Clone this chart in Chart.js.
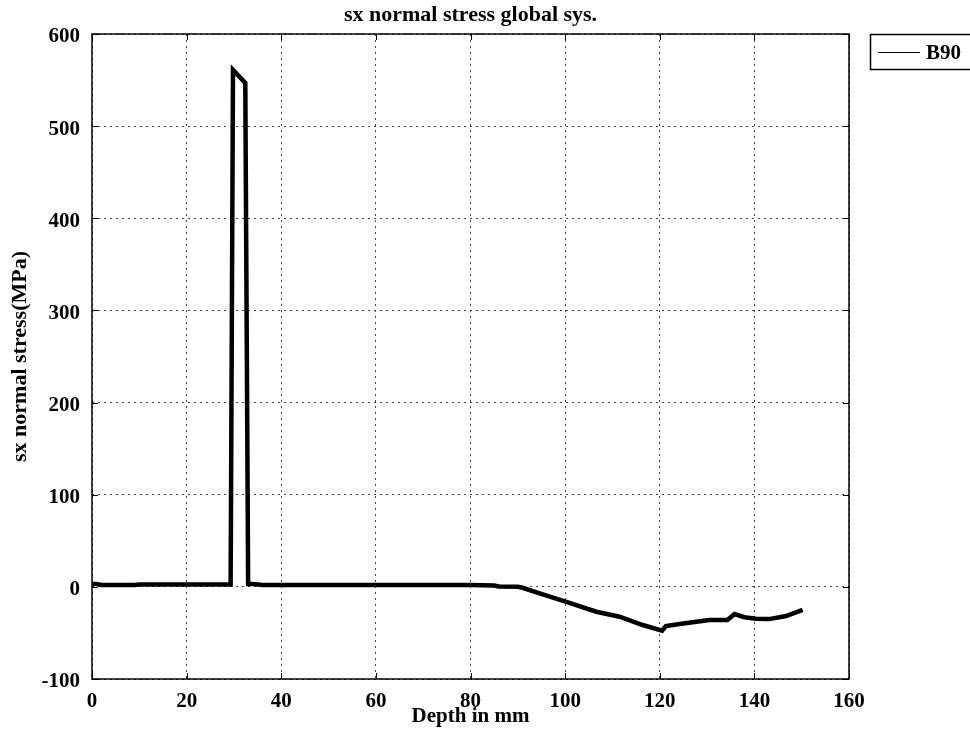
<!DOCTYPE html>
<html>
<head>
<meta charset="utf-8">
<title>sx normal stress global sys.</title>
<script src="https://cdn.jsdelivr.net/npm/chart.js@4.4.1/dist/chart.umd.min.js"></script>
<style>
  html, body { margin: 0; padding: 0; background: #fff; }
  #wrap { width: 970px; height: 740px; }
</style>
</head>
<body>
<div id="wrap"><canvas id="stressChart" width="970" height="740"></canvas></div>
<script>
// Depth along the path (mm) and sx stress at each depth (MPa)
const depthMm = [0, 1, 2, 5, 9, 10, 20, 29.3, 29.8, 32.4, 33.0, 34, 36, 40, 60, 80, 85, 86,
    90, 91, 94.6, 100.1, 106.6, 111.5, 116.4, 120.5, 121.3, 124.2, 130.5, 134.3, 135.8,
    137.9, 140.3, 143.1, 146.7, 150.2];
const sxStress = [3, 3, 2, 2, 2, 2.5, 2.5, 2.5, 561, 547, 3, 3, 2, 2, 2, 2, 1.5, 0.5,
    0, -1, -7, -16, -27, -32.4, -41.4, -47.5, -42.5, -40.3, -36, -36, -29.5,
    -33, -34.6, -35, -31.7, -25];

const seriesLabel = 'B90';
const xTicks = [0, 20, 40, 60, 80, 100, 120, 140, 160];
const yTicks = [-100, 0, 100, 200, 300, 400, 500, 600];

const SERIF = '"Liberation Serif", "Times New Roman", serif';

// frame, inward tick marks, title and the boxed legend
const framePlugin = {
    id: 'framePlugin',
    afterDraw(chart) {
        const ctx = chart.ctx;
        const a = chart.chartArea;
        const xs = chart.scales.x;
        const ys = chart.scales.y;
        const tick = 6;

        ctx.save();
        ctx.strokeStyle = '#000';
        ctx.lineWidth = 1.5;
        ctx.setLineDash([]);
        ctx.strokeRect(a.left, a.top, a.right - a.left, a.bottom - a.top);

        ctx.lineWidth = 1;
        ctx.beginPath();
        xTicks.forEach(v => {
            const px = Math.round(xs.getPixelForValue(v)) + 0.5;
            ctx.moveTo(px, a.bottom); ctx.lineTo(px, a.bottom - tick);
            ctx.moveTo(px, a.top); ctx.lineTo(px, a.top + tick);
        });
        yTicks.forEach(v => {
            const py = Math.round(ys.getPixelForValue(v)) + 0.5;
            ctx.moveTo(a.left, py); ctx.lineTo(a.left + tick, py);
            ctx.moveTo(a.right, py); ctx.lineTo(a.right - tick, py);
        });
        ctx.stroke();

        // title over the plot area
        ctx.fillStyle = '#000';
        ctx.font = 'bold 22px ' + SERIF;
        ctx.textAlign = 'center';
        ctx.textBaseline = 'middle';
        ctx.fillText('sx normal stress global sys.', (a.left + a.right) / 2, 15);

        // legend box
        ctx.lineWidth = 1.5;
        ctx.strokeRect(870.5, 34.5, 110, 35);
        ctx.lineWidth = 1;
        ctx.beginPath();
        ctx.moveTo(878, 52.5);
        ctx.lineTo(920, 52.5);
        ctx.stroke();
        ctx.font = 'bold 21px ' + SERIF;
        ctx.textAlign = 'left';
        ctx.fillText(chart.data.datasets[0].label, 926, 54);
        ctx.restore();
    }
};

const ctx = document.getElementById('stressChart').getContext('2d');
new Chart(ctx, {
    type: 'line',
    data: {
        datasets: [{
            label: seriesLabel,
            data: depthMm.map((d, i) => ({ x: d, y: sxStress[i] })),
            borderColor: '#000',
            borderWidth: 4.5,
            borderJoinStyle: 'miter',
            pointRadius: 0,
            tension: 0,
            fill: false
        }]
    },
    options: {
        responsive: false,
        animation: false,
        layout: { padding: { left: 0, top: 34, right: 121, bottom: 0 } },
        plugins: {
            legend: { display: false },
            title: { display: false },
            tooltip: { enabled: false }
        },
        scales: {
            x: {
                type: 'linear',
                min: 0,
                max: 160,
                afterFit(scale) { scale.height = 61; },
                afterBuildTicks(scale) { scale.ticks = xTicks.map(v => ({ value: v })); },
                grid: { color: '#444', lineWidth: 1, drawTicks: false },
                border: { display: false, dash: [2, 4] },
                ticks: {
                    color: '#000',
                    padding: 10,
                    maxRotation: 0,
                    font: { family: SERIF, size: 21, weight: 'bold' }
                },
                title: {
                    display: true,
                    text: 'Depth in mm',
                    color: '#000',
                    padding: { top: 0, bottom: 11 },
                    font: { family: SERIF, size: 21, weight: 'bold' }
                }
            },
            y: {
                type: 'linear',
                min: -100,
                max: 600,
                afterFit(scale) { scale.width = 92; },
                afterBuildTicks(scale) { scale.ticks = yTicks.map(v => ({ value: v })); },
                grid: { color: '#444', lineWidth: 1, drawTicks: false },
                border: { display: false, dash: [2, 4] },
                ticks: {
                    color: '#000',
                    padding: 12,
                    labelOffset: 3,
                    font: { family: SERIF, size: 21, weight: 'bold' }
                },
                title: {
                    display: true,
                    text: 'sx normal stress(MPa)',
                    color: '#000',
                    padding: { top: 7, bottom: 0 },
                    font: { family: SERIF, size: 22, weight: 'bold' }
                }
            }
        }
    },
    plugins: [framePlugin]
});
</script>
</body>
</html>
